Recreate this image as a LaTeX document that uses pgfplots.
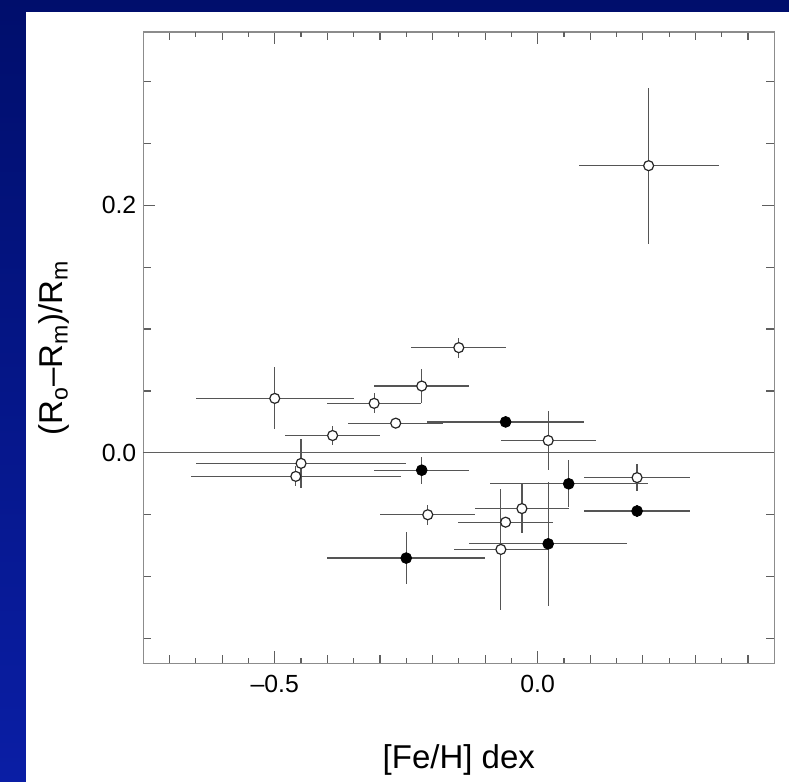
\documentclass[border=0pt]{standalone}
\usepackage{fontspec}
\setmainfont{Liberation Sans}
\usepackage{pgfplots}
\pgfplotsset{compat=1.18}
\usepackage{pgfplotstable}

\definecolor{navytop}{RGB}{0,14,108}
\definecolor{navybot}{RGB}{10,30,165}
\definecolor{framegray}{RGB}{140,140,140}
\definecolor{tickgray}{RGB}{95,95,95}
\definecolor{bargray}{RGB}{85,85,85}

% open symbols: [Fe/H], (Ro-Rm)/Rm and their errors
\pgfplotstableread{
x       y        ex     ey
-0.500  0.044    0.150  0.025
-0.311  0.040    0.090  0.008
-0.2205 0.054    0.090  0.014
-0.270  0.024    0.090  0.004
-0.390  0.014    0.090  0.008
-0.450 -0.0085   0.200  0.020
-0.460 -0.019    0.200  0.008
-0.209 -0.050    0.090  0.008
-0.150  0.085    0.090  0.008
 0.020  0.010    0.090  0.024
 0.189 -0.020    0.100  0.011
-0.030 -0.045    0.090  0.020
-0.061 -0.056    0.090  0.004
-0.070 -0.078    0.090  0.049
 0.211  0.232    0.133  0.063
}\openpts

% filled symbols
\pgfplotstableread{
x       y        ex     ey
-0.061  0.025    0.150  0.004
-0.2205 -0.014   0.090  0.011
-0.250 -0.085    0.150  0.021
 0.059 -0.025    0.150  0.019
 0.189 -0.047    0.100  0.005
 0.020 -0.0735   0.150  0.050
}\filledpts

\begin{document}
\begin{tikzpicture}
% slide background and white panel
\shade[top color=navytop, bottom color=navybot] (0pt,0pt) rectangle (394.5pt,-391pt);
\fill[white] (13pt,-6pt) rectangle (394.5pt,-391pt);

\begin{axis}[
    at={(71.65pt,-16pt)}, anchor=north west,
    scale only axis,
    width=315.5pt, height=315.65pt,
    xmin=-0.75, xmax=0.45,
    ymin=-0.17, ymax=0.34,
    axis line style={framegray, line width=0.75pt},
    tick style={tickgray, line width=0.6pt},
    tick align=inside,
    xtick={-0.5,0}, xticklabels={\textendash0.5, 0.0},
    minor xtick={-0.7,-0.6,...,0.4},
    ytick={0,0.2}, yticklabels={0.0, 0.2},
    minor ytick={-0.15,-0.1,...,0.31},
    major tick length=6pt, minor tick length=4pt,
    extra x ticks={-0.65,-0.55,-0.45,-0.35,-0.25,-0.15,-0.05,0.05,0.15,0.25,0.35},
    extra x tick labels={},
    extra x tick style={major tick length=2.5pt},
    tick label style={font=\fontsize{12.4}{14}\selectfont},
    xticklabel style={yshift=-2.5pt},
    xlabel={[Fe/H] dex},
    ylabel={(R\textsubscript{o}\textendash R\textsubscript{m})/R\textsubscript{m}},
    label style={font=\fontsize{16.5}{19}\selectfont},
    xlabel style={at={(axis description cs:0.5,-0.153)}, anchor=center},
    ylabel style={at={(axis description cs:-0.1415,0.5)}, anchor=center, rotate=0},
    error bars/error mark=none,
    error bars/error bar style={bargray, line width=0.6pt},
    clip=false,
]
\addplot[tickgray, line width=0.6pt, forget plot] coordinates {(-0.75,0) (0.45,0)};

\addplot[only marks, mark=*, mark size=2.5pt,
    mark options={fill=white, draw=black!85, line width=0.6pt},
    error bars/.cd, x dir=both, x explicit, y dir=both, y explicit]
    table[x=x, y=y, x error=ex, y error=ey] {\openpts};

\addplot[only marks, mark=*, mark size=2.7pt,
    mark options={fill=black, draw=black},
    error bars/.cd, x dir=both, x explicit, y dir=both, y explicit]
    table[x=x, y=y, x error=ex, y error=ey] {\filledpts};
\end{axis}
\pgfresetboundingbox
\path (0pt,0pt) rectangle (394.5pt,-391pt);
\end{tikzpicture}
\end{document}
